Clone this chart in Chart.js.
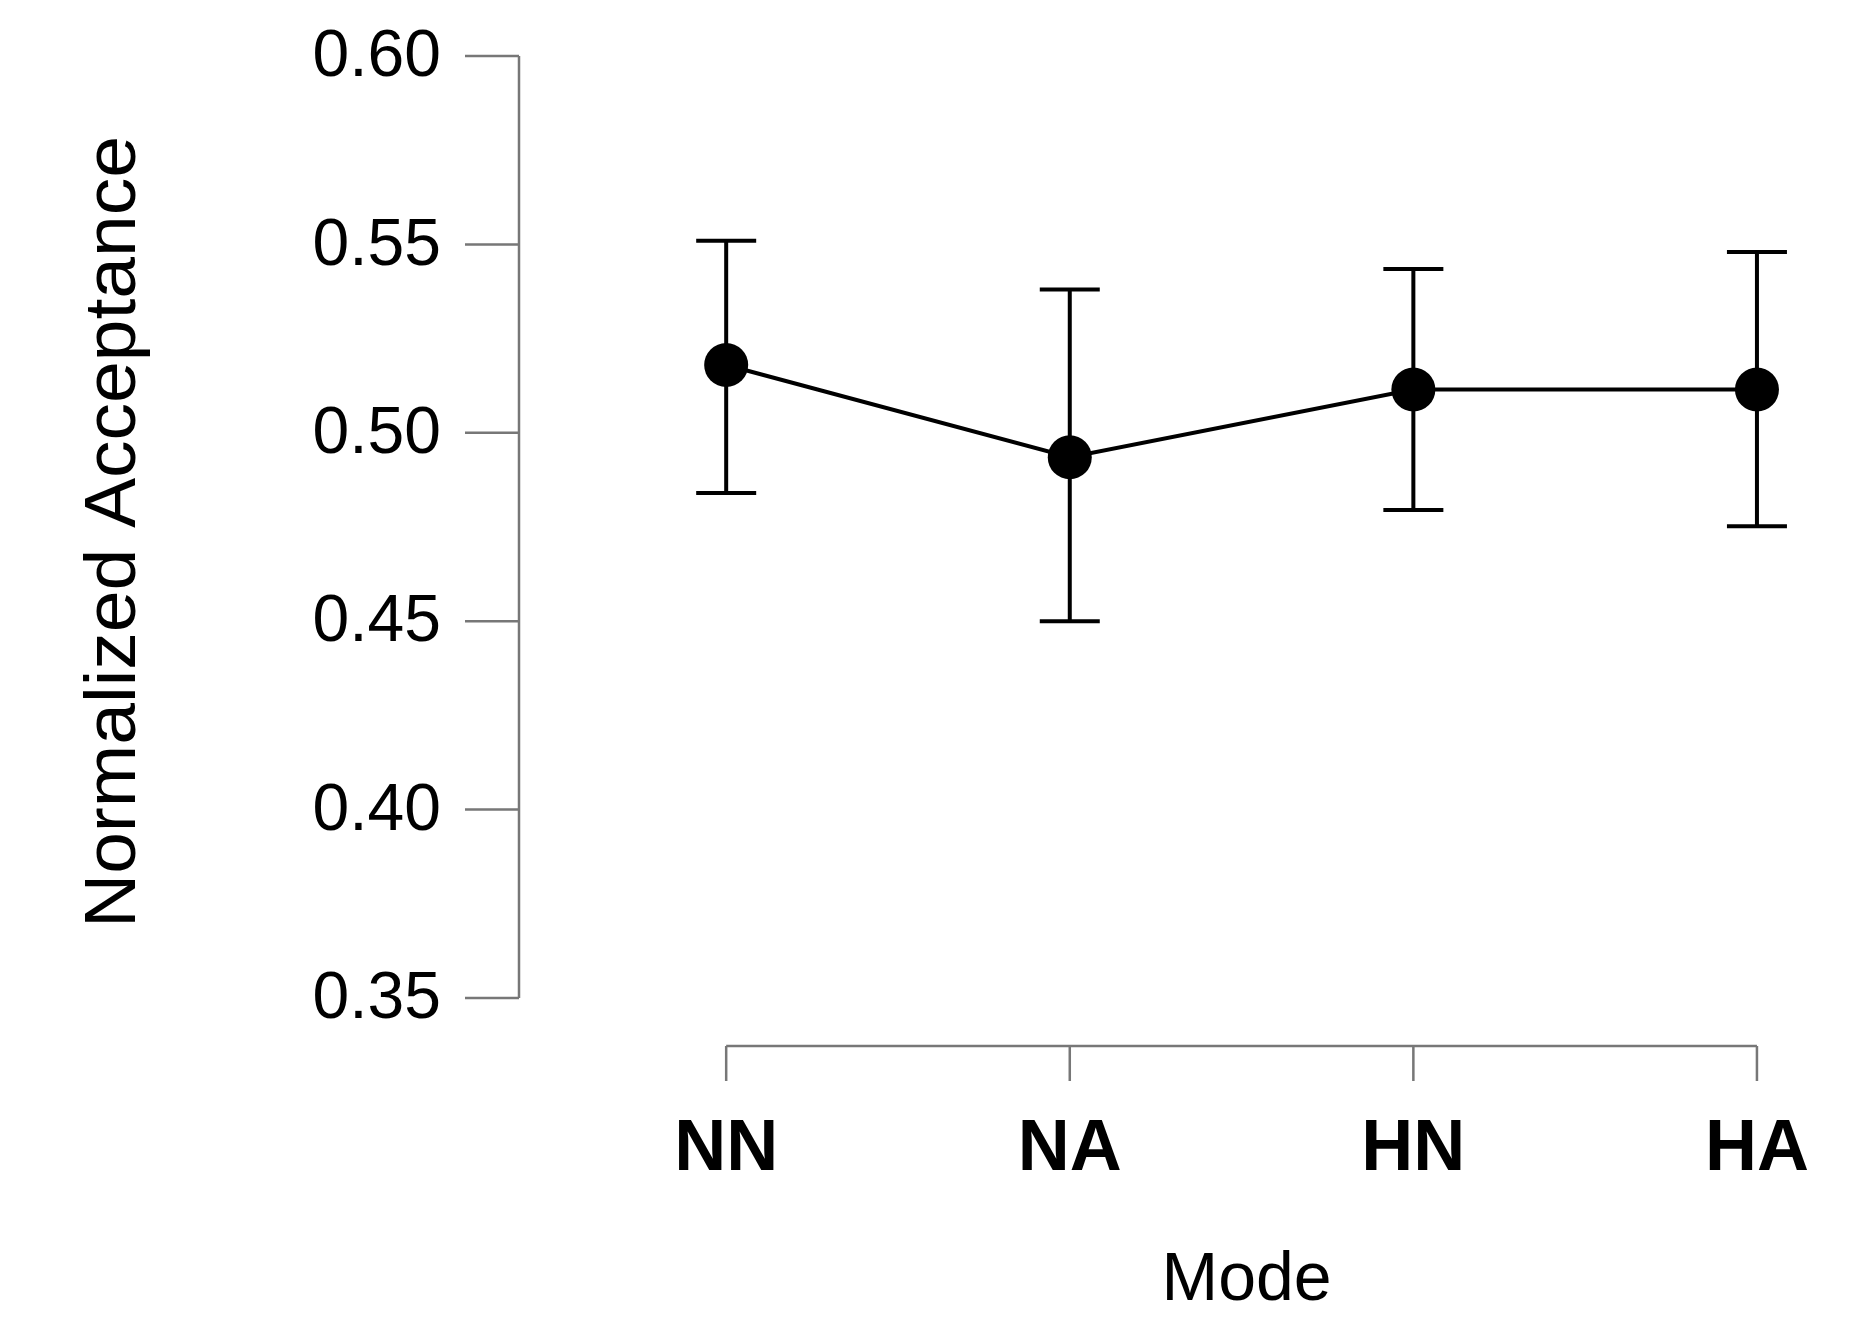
<!DOCTYPE html>
<html><head><meta charset="utf-8">
<script src="https://cdn.jsdelivr.net/npm/chart.js@4/dist/chart.umd.min.js"></script>
<style>html,body{margin:0;padding:0;background:#fff}#w{width:1870px;height:1331px}</style>
</head><body><div id="w"><canvas id="c"></canvas></div>
<script>
const categories = ["NN","NA","HN","HA"];
const means = [0.518, 0.4935, 0.5115, 0.5115];
const upper = [0.551, 0.538, 0.5435, 0.548];
const lower = [0.484, 0.450, 0.4795, 0.4752];
const yTicks = [0.35, 0.40, 0.45, 0.50, 0.55, 0.60];
const yTitle = "Normalized Acceptance";
const xTitle = "Mode";

const FONT = '"Liberation Sans", Arial, sans-serif';
const axesPlugin = {
  id: 'rAxes',
  afterDatasetsDraw(chart) {
    const ctx = chart.ctx, x = chart.scales.x, y = chart.scales.y;
    ctx.save();
    // error bars
    ctx.strokeStyle = '#000'; ctx.lineWidth = 4;
    means.forEach((m, i) => {
      const px = x.getPixelForValue(i);
      const yt = y.getPixelForValue(upper[i]), yb = y.getPixelForValue(lower[i]);
      ctx.beginPath();
      ctx.moveTo(px, yt); ctx.lineTo(px, yb);
      ctx.moveTo(px - 30, yt); ctx.lineTo(px + 30, yt);
      ctx.moveTo(px - 30, yb); ctx.lineTo(px + 30, yb);
      ctx.stroke();
    });
    // y axis
    ctx.strokeStyle = '#777'; ctx.lineWidth = 2.5;
    const ax = chart.chartArea.left;
    const y0 = y.getPixelForValue(yTicks[0]), y1 = y.getPixelForValue(yTicks[yTicks.length-1]);
    ctx.beginPath(); ctx.moveTo(ax, y0); ctx.lineTo(ax, y1);
    yTicks.forEach(t => { const py = y.getPixelForValue(t); ctx.moveTo(ax, py); ctx.lineTo(ax - 54, py); });
    ctx.stroke();
    ctx.fillStyle = '#000'; ctx.font = '66px ' + FONT; ctx.textAlign = 'right'; ctx.textBaseline = 'middle';
    yTicks.forEach(t => { const py = y.getPixelForValue(t); ctx.fillText(t.toFixed(2), ax - 78, py + 2); });
    // x axis
    const ay = 1046;
    const xa = x.getPixelForValue(0), xb = x.getPixelForValue(categories.length - 1);
    ctx.beginPath(); ctx.moveTo(xa, ay); ctx.lineTo(xb, ay);
    categories.forEach((c, i) => { const px = x.getPixelForValue(i); ctx.moveTo(px, ay); ctx.lineTo(px, ay + 35); });
    ctx.stroke();
    ctx.font = 'bold 72px ' + FONT; ctx.textAlign = 'center'; ctx.textBaseline = 'alphabetic';
    categories.forEach((c, i) => ctx.fillText(c, x.getPixelForValue(i), 1170));
    ctx.font = '68px ' + FONT;
    ctx.fillText(xTitle, (xa + xb) / 2 + 5, 1300);
    // y title
    ctx.save();
    ctx.translate(115, (y0 + y1) / 2 + 5);
    ctx.rotate(-Math.PI / 2);
    ctx.font = '72px ' + FONT;
    const w = ctx.measureText(yTitle).width;
    ctx.scale(792 / w, 1);
    ctx.textAlign = 'center'; ctx.textBaseline = 'middle';
    ctx.fillText(yTitle, 0, 0);
    ctx.restore();
    ctx.restore();
  }
};

new Chart(document.getElementById('c'), {
  type: 'line',
  data: { datasets: [{
    data: means.map((v, i) => ({ x: i, y: v })),
    borderColor: '#000', backgroundColor: '#000', borderWidth: 4,
    pointRadius: 22, pointBackgroundColor: '#000', pointBorderWidth: 0, tension: 0
  }]},
  options: {
    responsive: true, maintainAspectRatio: false, animation: false,
    layout: { padding: { left: 519, top: 56, right: 10, bottom: 333 } },
    plugins: { legend: { display: false }, tooltip: { enabled: false } },
    scales: {
      x: { type: 'linear', display: false, min: -0.603, max: 3.265 },
      y: { type: 'linear', display: false, min: 0.35, max: 0.60 }
    }
  },
  plugins: [axesPlugin]
});
</script></body></html>
